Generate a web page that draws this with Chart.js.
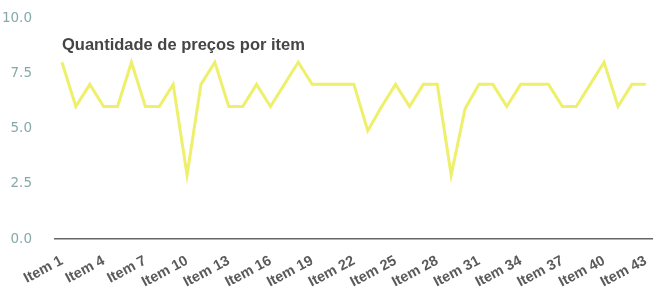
<!DOCTYPE html>
<html>
<head>
<meta charset="utf-8">
<script src="https://cdn.jsdelivr.net/npm/chart.js@4/dist/chart.umd.min.js"></script>
<style>
  html, body { margin: 0; padding: 0; background: #fff; }
  #wrap { width: 659px; height: 305px; }
</style>
</head>
<body>
<div id="wrap"><canvas id="chart"></canvas></div>
<script>
// quantity of prices for each item (Item 1 .. Item 43)
const items = [];
for (let i = 1; i <= 43; i++) items.push('Item ' + i);

const precos = [
  8, 6, 7, 6, 6, 8, 6, 6, 7, 2.9,
  7, 8, 6, 6, 7, 6, 7, 8, 7, 7,
  7, 7, 4.9, 6, 7, 6, 7, 7, 2.9, 5.9,
  7, 7, 6, 7, 7, 7, 6, 6, 7, 8,
  6, 7, 7
];

const yTicks = [0, 2.5, 5, 7.5, 10];
const chartTitle = 'Quantidade de preços por item';

// title sits inside the plot, top left, like the original
const titleInside = {
  id: 'titleInside',
  afterDraw(chart) {
    const { ctx, chartArea } = chart;
    ctx.save();
    ctx.font = 'bold 16.5px "Liberation Sans", Arial, sans-serif';
    ctx.fillStyle = '#454545';
    ctx.textBaseline = 'middle';
    ctx.fillText(chartTitle, chartArea.left + 7, 45);
    ctx.restore();
  }
};

const ctx = document.getElementById('chart').getContext('2d');
new Chart(ctx, {
  type: 'line',
  data: {
    labels: items,
    datasets: [{
      label: chartTitle,
      data: precos,
      borderColor: '#eef06c',
      borderWidth: 3,
      pointRadius: 0,
      tension: 0,
      fill: false
    }]
  },
  options: {
    responsive: true,
    maintainAspectRatio: false,
    animation: false,
    layout: { padding: { top: 18, right: 4, left: 0, bottom: 9 } },
    plugins: {
      legend: { display: false },
      tooltip: { enabled: false }
    },
    scales: {
      x: {
        offset: true,
        grid: { display: false },
        border: { display: true, color: '#666', width: 1.5 },
        ticks: {
          autoSkip: false,
          callback: function (val, i) {
            return i % 3 === 0 ? items[i] : null;
          },
          minRotation: 28,
          maxRotation: 28,
          padding: 5,
          color: '#5a5a5a',
          font: { family: '"Liberation Sans", Arial, sans-serif', size: 14.5, weight: 'bold' }
        }
      },
      y: {
        min: 0,
        max: 10,
        afterBuildTicks: function (axis) {
          axis.ticks = yTicks.map(v => ({ value: v }));
        },
        afterFit: function (axis) {
          axis.width = 55;
          axis.paddingTop = 8;
          axis.paddingBottom = 8;
        },
        grid: { display: false },
        border: { display: false },
        ticks: {
          padding: 15,
          color: '#86a9a7',
          font: { family: '"DejaVu Sans", sans-serif', size: 13.5 },
          callback: v => v.toFixed(1)
        }
      }
    }
  },
  plugins: [titleInside]
});
</script>
</body>
</html>
